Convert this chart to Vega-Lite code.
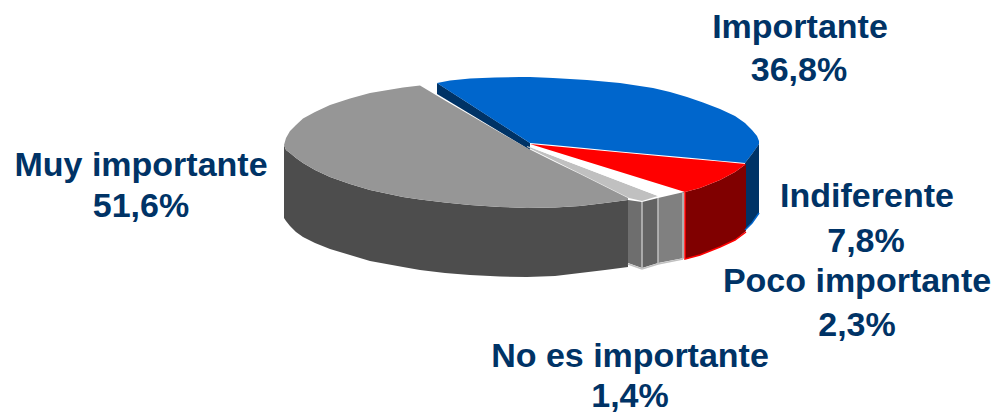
{
"$schema":"https://vega.github.io/schema/vega-lite/v6.json",
"width":996,"height":413,"padding":0,
"autosize":"none",
"background":"white",
"config":{"view":{"stroke":null}},
"resolve":{"scale":{"color":"independent"}},
"datasets":{
"shapes":[
{"part":"blue_cut","x":437,"y":83,"y2":94},{"part":"blue_cut","x":530,"y":143,"y2":150},
{"part":"blue_top","x":437,"y":83,"y2":83},{"part":"blue_top","x":450,"y":80.5,"y2":91.4},{"part":"blue_top","x":470,"y":78.5,"y2":104.3},{"part":"blue_top","x":495,"y":77.5,"y2":120.4},{"part":"blue_top","x":520,"y":77,"y2":136.5},{"part":"blue_top","x":530,"y":77,"y2":143},{"part":"blue_top","x":553,"y":78,"y2":145},{"part":"blue_top","x":587,"y":80,"y2":148.3},{"part":"blue_top","x":620,"y":83,"y2":151.4},{"part":"blue_top","x":653,"y":88,"y2":154.4},{"part":"blue_top","x":670,"y":92,"y2":156},{"part":"blue_top","x":687,"y":97,"y2":157.6},{"part":"blue_top","x":703,"y":102.5,"y2":159},{"part":"blue_top","x":720,"y":109,"y2":160.7},{"part":"blue_top","x":735,"y":116,"y2":162},{"part":"blue_top","x":745,"y":123,"y2":163},{"part":"blue_top","x":752,"y":130,"y2":154},{"part":"blue_top","x":757,"y":136,"y2":147},{"part":"blue_top","x":759,"y":141,"y2":144},
{"part":"blue_side","x":745,"y":163,"y2":230},{"part":"blue_side","x":752,"y":154,"y2":223},{"part":"blue_side","x":759,"y":144,"y2":213},
{"part":"red_side","x":685,"y":192,"y2":259},{"part":"red_side","x":700,"y":188,"y2":255},{"part":"red_side","x":720,"y":180,"y2":247},{"part":"red_side","x":735,"y":172,"y2":240},{"part":"red_side","x":746,"y":164,"y2":231},
{"part":"red_top","x":530,"y":144,"y2":144},{"part":"red_top","x":685,"y":158.4,"y2":192},{"part":"red_top","x":700,"y":159.7,"y2":188},{"part":"red_top","x":720,"y":161.6,"y2":180},{"part":"red_top","x":735,"y":163,"y2":172},{"part":"red_top","x":746,"y":164,"y2":164},
{"part":"noes_top","x":527,"y":146,"y2":147},{"part":"noes_top","x":629,"y":185,"y2":198},{"part":"noes_top","x":642,"y":190,"y2":201},{"part":"noes_top","x":658,"y":196,"y2":196},
{"part":"white_top","x":527,"y":146,"y2":146},{"part":"white_top","x":658,"y":188,"y2":196},{"part":"white_top","x":683,"y":192,"y2":192},
{"part":"facet_a","x":628,"y":200,"y2":263},{"part":"facet_a","x":642,"y":202,"y2":268},
{"part":"facet_b","x":642,"y":202,"y2":268},{"part":"facet_b","x":658,"y":198,"y2":263},
{"part":"facet_c","x":658,"y":198,"y2":263},{"part":"facet_c","x":684,"y":192,"y2":258},
{"part":"gray_side","x":284,"y":145,"y2":218},{"part":"gray_side","x":286,"y":150,"y2":221},{"part":"gray_side","x":290,"y":153,"y2":226},{"part":"gray_side","x":296,"y":158,"y2":232},{"part":"gray_side","x":303,"y":163,"y2":237},{"part":"gray_side","x":315,"y":170,"y2":243},{"part":"gray_side","x":330,"y":177,"y2":249},{"part":"gray_side","x":350,"y":184,"y2":255},{"part":"gray_side","x":370,"y":190,"y2":261},{"part":"gray_side","x":403,"y":197,"y2":267},{"part":"gray_side","x":420,"y":199.5,"y2":270},{"part":"gray_side","x":445,"y":202.5,"y2":273},{"part":"gray_side","x":470,"y":205,"y2":275},{"part":"gray_side","x":500,"y":207,"y2":276.5},{"part":"gray_side","x":527,"y":208,"y2":277},{"part":"gray_side","x":555,"y":207.5,"y2":276},{"part":"gray_side","x":580,"y":206,"y2":273},{"part":"gray_side","x":605,"y":203,"y2":270},{"part":"gray_side","x":628,"y":200,"y2":267},
{"part":"gray_top","x":284,"y":145,"y2":145},{"part":"gray_top","x":286,"y":138,"y2":150},{"part":"gray_top","x":290,"y":131,"y2":153},{"part":"gray_top","x":296,"y":125,"y2":158},{"part":"gray_top","x":303,"y":118.5,"y2":163},{"part":"gray_top","x":315,"y":112,"y2":170},{"part":"gray_top","x":330,"y":105,"y2":177},{"part":"gray_top","x":350,"y":98.5,"y2":184},{"part":"gray_top","x":370,"y":93,"y2":190},{"part":"gray_top","x":403,"y":87.5,"y2":197},{"part":"gray_top","x":420,"y":85.5,"y2":199.5},{"part":"gray_top","x":445,"y":100.5,"y2":202.5},{"part":"gray_top","x":470,"y":115,"y2":205},{"part":"gray_top","x":500,"y":132.5,"y2":207},{"part":"gray_top","x":527,"y":148,"y2":208},{"part":"gray_top","x":555,"y":162,"y2":207.5},{"part":"gray_top","x":580,"y":174,"y2":206},{"part":"gray_top","x":605,"y":186.5,"y2":203},{"part":"gray_top","x":628,"y":198,"y2":200}
],
"edges":[
{"edge":"blue_lo","o":1,"x":745,"y":230},{"edge":"blue_lo","o":2,"x":752,"y":223},{"edge":"blue_lo","o":3,"x":759,"y":213},
{"edge":"red_lo","o":1,"x":685,"y":192},{"edge":"red_lo","o":2,"x":685,"y":259},{"edge":"red_lo","o":3,"x":700,"y":255},{"edge":"red_lo","o":4,"x":720,"y":247},{"edge":"red_lo","o":5,"x":735,"y":240},{"edge":"red_lo","o":6,"x":746,"y":232},
{"edge":"sep1","o":1,"x":642,"y":202},{"edge":"sep1","o":2,"x":642,"y":268},
{"edge":"sep2","o":1,"x":658,"y":198},{"edge":"sep2","o":2,"x":658,"y":264},
{"edge":"sep3","o":1,"x":683,"y":193},{"edge":"sep3","o":2,"x":683,"y":259},
{"edge":"sep4","o":1,"x":628,"y":264},{"edge":"sep4","o":2,"x":642,"y":269},{"edge":"sep4","o":3,"x":658,"y":264},{"edge":"sep4","o":4,"x":683,"y":259}
],
"labels":[
{"t":"Importante","x":800,"y":38},{"t":"36,8%","x":799,"y":81},
{"t":"Muy importante","x":141,"y":176},{"t":"51,6%","x":141,"y":217},
{"t":"Indiferente","x":867,"y":207},{"t":"7,8%","x":866,"y":252},
{"t":"Poco importante","x":857,"y":292},{"t":"2,3%","x":857,"y":336},
{"t":"No es importante","x":630,"y":367},{"t":"1,4%","x":630,"y":407}
]
},
"encoding":{
"x":{"field":"x","type":"quantitative","axis":null,"scale":{"domain":[0,996],"nice":false,"zero":false}},
"y":{"field":"y","type":"quantitative","axis":null,"scale":{"domain":[413,0],"nice":false,"zero":false}}
},
"layer":[
{"data":{"name":"shapes"},"mark":{"type":"area","interpolate":"linear"},
"encoding":{"y2":{"field":"y2"},"color":{"field":"part","type":"nominal","legend":null,"sort":null,
"scale":{"domain":["blue_cut","blue_top","blue_side","red_side","red_top","noes_top","white_top","facet_a","facet_b","facet_c","gray_side","gray_top"],
"range":["#003366","#0066cc","#003366","#800000","#ff0000","#c0c0c0","#ffffff","#6e6e6e","#636363","#808080","#4d4d4d","#969696"]}}}},
{"data":{"name":"edges"},"mark":{"type":"line","strokeWidth":1.5,"interpolate":"linear"},
"encoding":{"order":{"field":"o","type":"quantitative"},"color":{"field":"edge","type":"nominal","legend":null,
"scale":{"domain":["blue_lo","red_lo","sep1","sep2","sep3","sep4"],"range":["#0066cc","#ff0000","#c0c0c0","#c0c0c0","#c0c0c0","#c0c0c0"]}}}},
{"data":{"name":"labels"},"mark":{"type":"text","font":"Liberation Sans","fontWeight":"bold","fontSize":34,"align":"center","baseline":"alphabetic","color":"#003366"},
"encoding":{"text":{"field":"t","type":"nominal"}}}
]
}
